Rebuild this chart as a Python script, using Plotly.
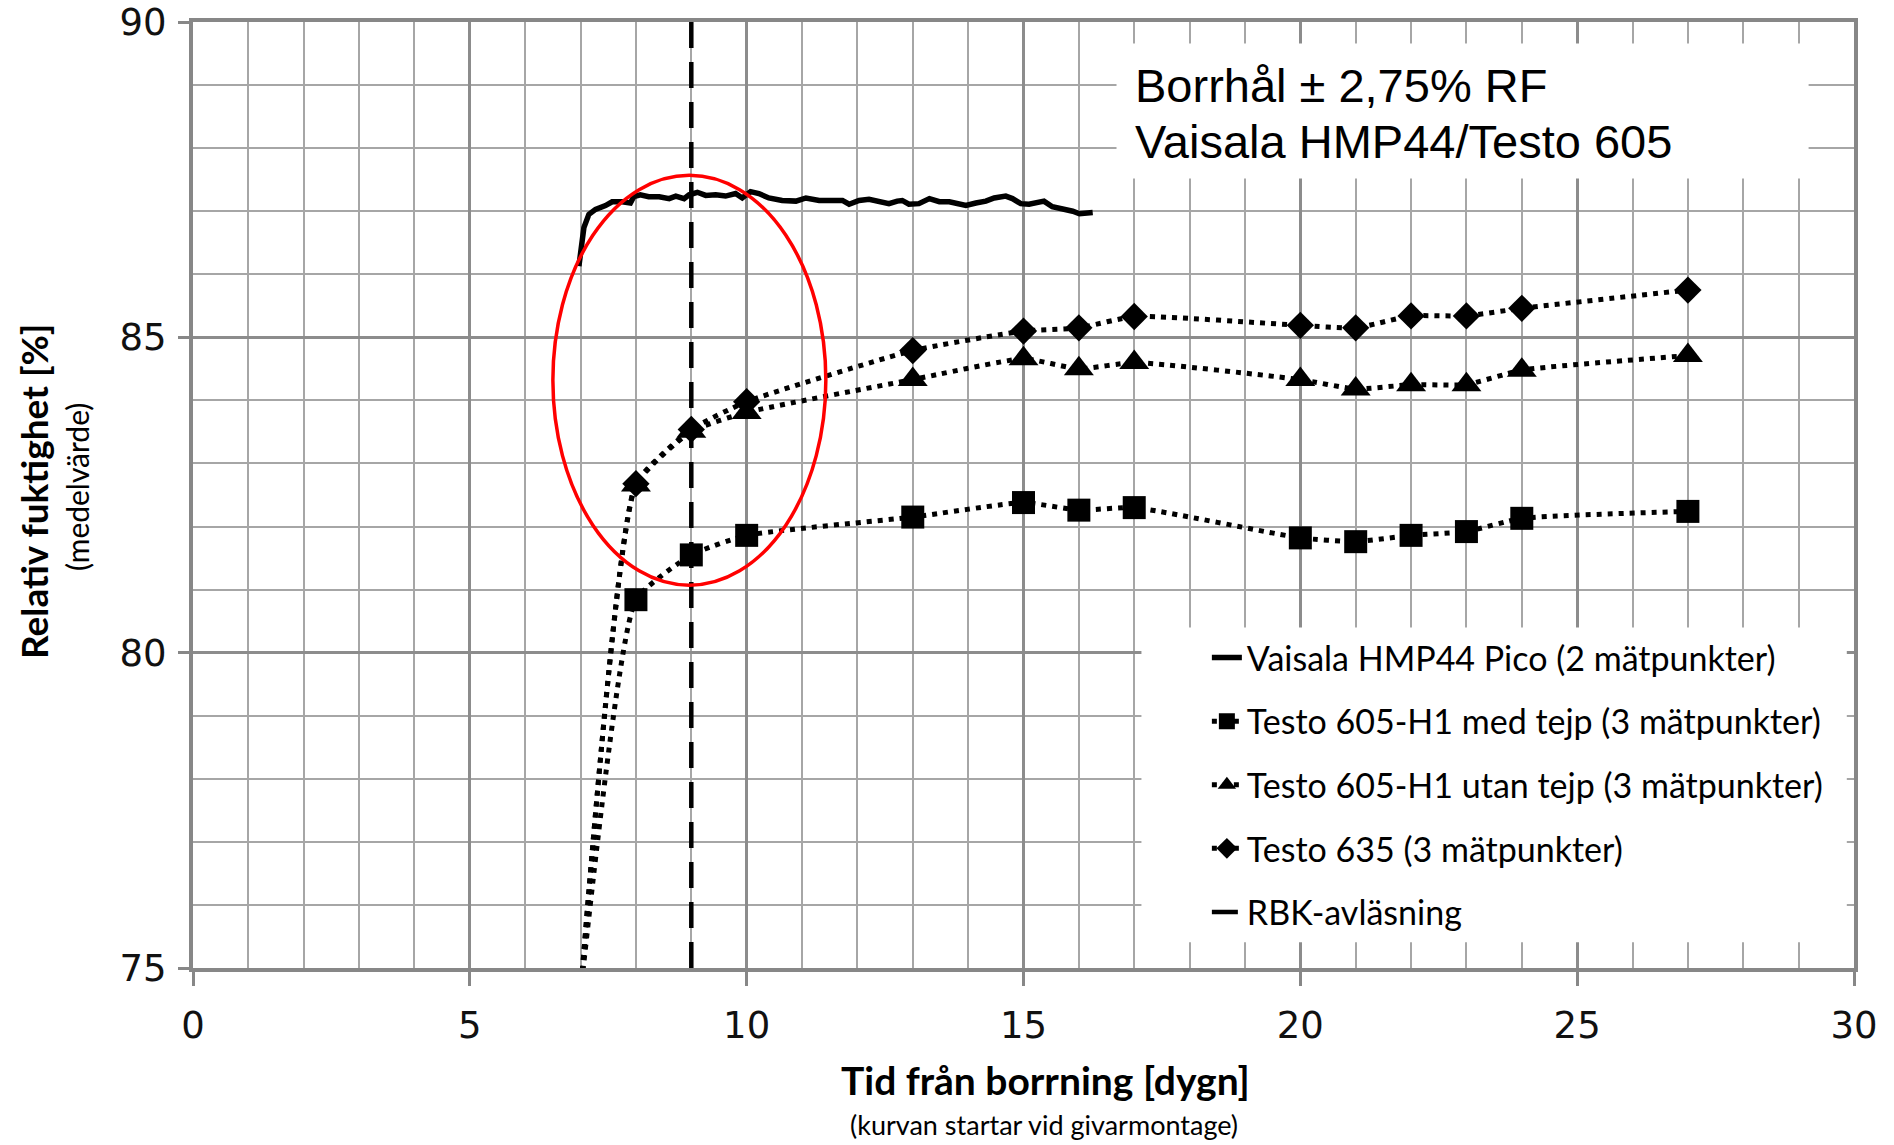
import plotly.graph_objects as go

# ---------------- data ----------------
vaisala_x = [6.97, 7.02, 7.06, 7.15, 7.27, 7.45, 7.57, 7.75, 7.90, 7.96, 8.08, 8.23, 8.42,
             8.60, 8.72, 8.87, 8.96, 9.11, 9.26, 9.44, 9.62, 9.80, 9.92, 10.07, 10.22, 10.40,
             10.64, 10.89, 11.07, 11.31, 11.55, 11.73, 11.85, 12.03, 12.21, 12.39, 12.57,
             12.72, 12.81, 12.93, 13.11, 13.30, 13.48, 13.66, 13.81, 13.96, 14.14, 14.32,
             14.47, 14.68, 14.80, 14.95, 15.10, 15.28, 15.37, 15.52, 15.70, 15.89, 16.01,
             16.16, 16.25]
vaisala_y = [86.13, 86.44, 86.74, 86.95, 87.03, 87.09, 87.15, 87.15, 87.13, 87.23, 87.26, 87.23, 87.23,
             87.20, 87.24, 87.20, 87.26, 87.30, 87.25, 87.26, 87.24, 87.28, 87.21, 87.31, 87.28, 87.21,
             87.17, 87.16, 87.21, 87.17, 87.16, 87.17, 87.11, 87.17, 87.19, 87.16, 87.12,
             87.16, 87.17, 87.11, 87.12, 87.20, 87.15, 87.15, 87.13, 87.09, 87.13, 87.16,
             87.21, 87.24, 87.20, 87.12, 87.11, 87.13, 87.16, 87.07, 87.04, 87.00, 86.96,
             86.97, 86.98]

testo_days = [7, 8, 9, 10, 13, 15, 16, 17, 20, 21, 22, 23, 24, 27]
med_tejp = [74.6, 80.84, 81.55, 81.86, 82.15, 82.38, 82.26, 82.30, 81.82, 81.76, 81.86, 81.92, 82.13, 82.24]
utan_tejp = [74.6, 82.66, 83.51, 83.81, 84.33, 84.66, 84.50, 84.60, 84.33, 84.18, 84.25, 84.25, 84.48, 84.71]
testo635 = [74.6, 82.68, 83.54, 83.98, 84.79, 85.10, 85.15, 85.33, 85.19, 85.15, 85.34, 85.34, 85.46, 85.75]

rbk_day = 9

names = ["Vaisala HMP44 Pico (2 mätpunkter)",
         "Testo 605-H1 med tejp (3 mätpunkter)",
         "Testo 605-H1 utan tejp (3 mätpunkter)",
         "Testo 635 (3 mätpunkter)",
         "RBK-avläsning"]

note_lines = ["Borrhål ± 2,75% RF", "Vaisala HMP44/Testo 605"]
y_title = "Relativ fuktighet [%]"
y_subtitle = "(medelvärde)"
x_title = "Tid från borrning [dygn]"
x_subtitle = "(kurvan startar vid givarmontage)"

x_range = [0, 30]
y_range = [75, 90]

# ---------------- figure ----------------
fig = go.Figure()

DOT = "5px,6px"
fig.add_trace(go.Scatter(x=vaisala_x, y=vaisala_y, mode="lines", name=names[0],
                         legendgroup="a", line=dict(color="black", width=5.5)))
for i, (vals, sym, size) in enumerate([(med_tejp, "square", 23),
                                       (utan_tejp, "triangle-up", 26),
                                       (testo635, "diamond", 21)]):
    fig.add_trace(go.Scatter(x=testo_days, y=vals, mode="lines+markers", name=names[i + 1],
                             legendgroup="g%d" % i,
                             line=dict(color="black", width=5, dash=DOT, shape="spline", smoothing=0.45),
                             marker=dict(symbol=sym, size=size, color="black")))
fig.add_trace(go.Scatter(x=[rbk_day, rbk_day], y=y_range, mode="lines", name=names[4],
                         legendgroup="r", line=dict(color="black", width=4.5, dash="26px,14px")))

# white boxes behind text and legend (above gridlines, below traces)
fig.add_shape(type="rect", xref="x", yref="y", x0=16.68, x1=29.18, y0=87.52, y1=89.66,
              fillcolor="white", line=dict(width=0), layer="between")
fig.add_shape(type="rect", xref="x", yref="y", x0=17.13, x1=29.87, y0=75.41, y1=80.40,
              fillcolor="white", line=dict(width=0), layer="between")
# red ellipse
fig.add_shape(type="circle", xref="x", yref="y", x0=6.50, x1=11.43, y0=81.07, y1=87.57,
              line=dict(color="#ff0000", width=3.5), layer="above")

for txt, yy in zip(note_lines, [89.00, 88.10]):
    fig.add_annotation(xref="x", yref="y", x=16.97, y=yy, xanchor="left", yanchor="middle",
                       text=txt, showarrow=False,
                       font=dict(family="Liberation Sans", size=47, color="black"))

# axis titles
fig.add_annotation(xref="paper", yref="paper", x=-0.0959, y=0.5039, xanchor="center", yanchor="middle",
                   textangle=-90, text="<b>%s</b>" % y_title, showarrow=False,
                   font=dict(family="Lato", size=37, color="black"))
fig.add_annotation(xref="paper", yref="paper", x=-0.0694, y=0.5081, xanchor="center", yanchor="middle",
                   textangle=-90, text=y_subtitle, showarrow=False,
                   font=dict(family="Lato", size=30, color="black"))
fig.add_annotation(xref="paper", yref="paper", x=0.5135, y=-0.1188, xanchor="center", yanchor="middle",
                   text="<b>%s</b>" % x_title, showarrow=False,
                   font=dict(family="Lato", size=39, color="black"))
fig.add_annotation(xref="paper", yref="paper", x=0.5123, y=-0.1650, xanchor="center", yanchor="middle",
                   text=x_subtitle, showarrow=False,
                   font=dict(family="Lato", size=27, color="black"))

axis_common = dict(showline=True, linecolor="#878787", linewidth=4, mirror=True,
                   ticks="outside", tickcolor="#878787", tickwidth=2.5,
                   showgrid=True, gridcolor="#8c8c8c", gridwidth=3, zeroline=False,
                   tickfont=dict(family="DejaVu Sans", size=37, color="#111111"),
                   automargin=False, ticklabeloverflow="allow")

fig.update_xaxes(range=x_range, tick0=0, dtick=5, ticklen=14, ticklabelstandoff=8,
                 minor=dict(dtick=1, showgrid=True, gridcolor="#a6a6a6", gridwidth=1.6),
                 **axis_common)
fig.update_yaxes(range=y_range, tick0=75, dtick=5, ticklen=11, ticklabelstandoff=4,
                 minor=dict(dtick=1, showgrid=True, gridcolor="#a6a6a6", gridwidth=1.6),
                 **axis_common)

fig.update_layout(
    width=1894, height=1145,
    margin=dict(l=193, r=40, t=22, b=177),
    paper_bgcolor="white", plot_bgcolor="white",
    showlegend=True,
    legend=dict(x=0.6104, y=0.3584, xanchor="left", yanchor="top",
                bgcolor="rgba(0,0,0,0)", borderwidth=0, tracegroupgap=16.4,
                font=dict(family="Lato", size=34, color="black")),
)

# remove the default 8px page margin so the figure fills the window exactly; hide the modebar
fig.write_html("out.html", config={"displayModeBar": False},
               post_script="document.body.style.margin='0px';")
